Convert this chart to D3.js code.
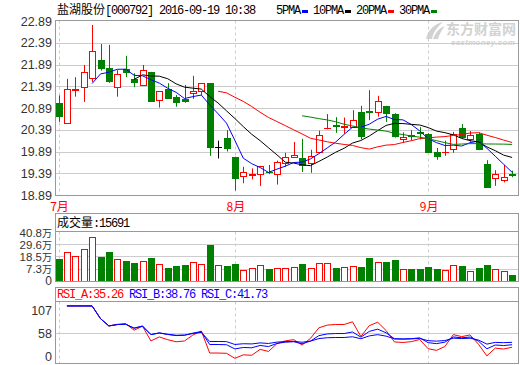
<!DOCTYPE html>
<html><head><meta charset="utf-8">
<script src="https://cdn.jsdelivr.net/npm/d3@7"></script>
<style>body{margin:0;background:#fff}svg{display:block}</style></head>
<body>
<svg id="c" width="520" height="365"></svg>
<script>
// ---- data ----
const openP  = [21.00,20.54,21.31,21.37,21.57,21.99,21.80,21.38,21.78,21.56,21.43,21.71,21.07,21.32,21.14,21.10,21.23,21.29,21.46,20.00,
                20.20,19.77,19.32,19.36,19.37,19.43,19.37,19.62,19.76,19.74,19.62,19.89,20.42,20.49,20.45,20.46,20.80,20.81,20.79,20.94,
                20.75,20.18,20.27,20.34,20.29,19.89,19.87,19.94,20.42,20.18,20.29,19.60,19.27,19.24,19.38];
const highP  = [21.18,21.56,21.60,21.88,22.80,22.36,22.34,21.76,22.09,21.69,21.88,21.72,21.28,21.46,21.19,21.42,21.63,21.46,21.46,20.14,
                20.38,19.77,19.54,19.50,19.56,19.58,19.68,19.86,20.11,20.18,19.93,20.37,20.75,20.68,20.67,20.84,20.94,21.30,21.17,20.94,
                20.77,20.33,20.38,20.45,20.31,19.97,20.14,20.34,20.52,20.36,20.33,19.69,19.46,19.58,19.45];
const lowP   = [20.57,20.54,21.15,21.03,21.49,21.75,21.47,21.15,21.60,21.37,21.40,21.05,20.90,21.10,20.92,21.01,21.10,21.19,19.79,19.73,
                19.89,18.99,19.16,19.25,19.10,19.37,19.13,19.54,19.75,19.42,19.40,19.89,20.40,20.32,20.30,20.45,20.17,20.61,20.69,20.57,
                20.21,20.09,20.14,20.17,19.88,19.70,19.79,19.86,20.19,20.11,19.92,19.06,19.10,19.18,19.30];
const closeP = [20.71,21.32,21.33,21.71,22.19,21.82,21.51,21.67,21.72,21.49,21.76,21.06,21.28,21.13,21.02,21.05,21.28,21.46,20.00,20.00,
                19.97,19.29,19.42,19.37,19.56,19.41,19.66,19.76,19.80,19.59,19.79,20.26,20.43,20.47,20.47,20.61,20.25,20.79,21.05,20.78,
                20.25,20.22,20.25,20.32,19.89,19.79,19.89,20.29,20.22,20.28,19.95,19.08,19.37,19.30,19.36];
const volume = [15.9,23.0,19.3,24.9,35.9,17.8,22.4,16.5,14.1,12.2,14.7,16.8,11.3,7.6,9.5,10.4,13.8,11.3,28.8,10.4,
                9.5,11.6,6.4,7.6,10.4,6.7,8.3,8.3,9.2,11.3,8.3,12.9,12.9,7.6,9.2,10.1,8.5,16.8,13.8,13.2,
                15.0,7.3,6.7,6.7,8.5,6.7,6.4,10.4,9.5,4.9,7.6,10.4,6.7,5.5,1.57]; // 万股
const monthIdx    = [0,21,44];
const monthLabels = ["7月","8月","9月"];
const priceTicks  = [22.89,22.39,21.89,21.39,20.89,20.39,19.89,19.39,18.89];
const volTicks    = [40.8,29.6,18.5,7.3];
const rsiTicks    = [107,58];
const maPeriods   = [5,10,20,30];
const maNames     = ["5PMA","10PMA","20PMA","30PMA"];
const maColors    = ["#0000ff","#000000","#ff0000","#008000"];
const rsiPeriods  = [6,12,24];
const rsiColors   = ["#ff0000","#0000ff","#0000ff"];
const titleCN = "盐湖股份", titleRest = "[000792] 2016-09-19 10:38";
const volHeader = "15691";
const rsiHeader = [["RSI_A:35.26","#ff0000"],["RSI_B:38.76","#0000ff"],["RSI_C:41.73","#0000ff"]];

// ---- layout ----
const svg = d3.select("#c");
const L = 55.5, R = 518.5;
const MT = 20.5, MB = 195.5;
const VT = 213.5, VH = 231.5, VB = 281.5;
const ST = 287.5, SH = 301.5, SB = 363.5;
const N = closeP.length;
const x = d3.scaleLinear().domain([0, N-1]).range([58.5, 58.5 + 8.4*(N-1)]);
const y = d3.scaleLinear().domain([18.89, 22.89]).range([195, 21]);
const yv = d3.scaleLinear().domain([-3.9, 40.8]).range([281, 232]);
const yr = d3.scaleLinear().domain([9.4, 107]).range([363.5, 301.5]);
const cx = i => Math.round(x(i)) + 0.5;
const RED = "#ff0000", GREEN = "#008000", GRID = "#cccccc", BORDER = "#999999";
const MONO = "'Liberation Mono','DejaVu Sans Mono',monospace";
const CJK = "'Noto Sans CJK SC','Noto Sans',sans-serif";
const SANS = "'Liberation Sans',Arial,sans-serif";

const defs = svg.append("defs");
defs.append("clipPath").attr("id","cm").append("rect").attr("x",L).attr("y",MT).attr("width",R-L).attr("height",MB-MT);
defs.append("clipPath").attr("id","cv").append("rect").attr("x",L).attr("y",VH).attr("width",R-L).attr("height",VB-VH);
defs.append("clipPath").attr("id","cr").append("rect").attr("x",L).attr("y",SH).attr("width",R-L).attr("height",SB-SH);

// ---- watermark ----
const wm = svg.append("g").attr("fill","#d2d2d2");
wm.append("path").attr("d","M426,39 C428,30 434,24 443,22 C437,27 433,33 432,39 Z M433,39 C435,33 439,28 445,26 C441,31 439,35 438,39 Z");
wm.append("text").attr("x",446).attr("y",34).attr("font-family",CJK).attr("font-weight","bold").attr("font-size",14).text("东方财富网");
wm.append("text").attr("x",451).attr("y",45).attr("font-family",SANS).attr("font-weight","bold").attr("font-style","italic").attr("font-size",8).attr("letter-spacing",0.3).text("eastmoney.com");

// ---- header ----
const hd = svg.append("text").attr("x",57).attr("y",14).attr("font-size",12).attr("fill","#000");
hd.append("tspan").attr("font-family",CJK).text(titleCN);
hd.append("tspan").attr("font-family",MONO).attr("letter-spacing",-1.2).text(titleRest);
let lx = 276;
maNames.forEach((nm,k)=>{
  svg.append("text").attr("x",lx).attr("y",14).attr("font-family",MONO).attr("font-size",12)
    .attr("letter-spacing",-1.2).attr("fill","#000").text(nm);
  const w = nm.length*6;
  svg.append("rect").attr("x",lx+w+2).attr("y",10).attr("width",6).attr("height",3).attr("fill",maColors[k]);
  lx += w + 13;
});

// ---- main panel grid ----
const gm = svg.append("g");
gm.selectAll("line.h").data(priceTicks.slice(1,-1)).join("line")
  .attr("x1",L).attr("x2",R).attr("y1",d=>Math.round(y(d))+0.5).attr("y2",d=>Math.round(y(d))+0.5)
  .attr("stroke",GRID);
function vdash(g, t, b){
  g.selectAll("line.v").data(monthIdx).join("line")
   .attr("x1",d=>cx(d)).attr("x2",d=>cx(d)).attr("y1",t).attr("y2",b)
   .attr("stroke",GRID).attr("stroke-dasharray","3,3");
}
vdash(gm, MT, MB);
svg.append("g").selectAll("text").data(priceTicks).join("text")
  .attr("x",52).attr("y",d=>y(d)+4.5).attr("text-anchor","end").attr("font-family",SANS)
  .attr("font-size",12.5).attr("fill","#333").text(d=>d.toFixed(2));

// candles
const cg = svg.append("g").attr("clip-path","url(#cm)");
for(let i=0;i<N;i++){
  const o=openP[i], c=closeP[i], h=highP[i], l=lowP[i];
  const col = c>o ? RED : (c<o ? GREEN : "#000");
  const X = cx(i);
  cg.append("line").attr("x1",X).attr("x2",X).attr("y1",y(h)).attr("y2",y(l)).attr("stroke",col);
  const top = Math.round(y(Math.max(o,c))), bot = Math.round(y(Math.min(o,c)));
  if (bot - top < 1) {
    cg.append("line").attr("x1",X-3.5).attr("x2",X+3.5).attr("y1",top+0.5).attr("y2",top+0.5).attr("stroke",col);
  } else if (c>o) {
    cg.append("rect").attr("x",X-3).attr("y",top+0.5).attr("width",6).attr("height",bot-top)
      .attr("fill","#fff").attr("stroke",col);
  } else {
    cg.append("rect").attr("x",X-3.5).attr("y",top).attr("width",7).attr("height",bot-top+1).attr("fill",col);
  }
}
// moving averages of the closes
maPeriods.forEach((n,k)=>{
  const ma = closeP.map((c,i)=> i<n-1 ? null : d3.mean(closeP.slice(i-n+1,i+1)));
  cg.append("path").datum(ma).attr("fill","none").attr("stroke",maColors[k]).attr("stroke-width",1)
    .attr("d", d3.line().defined(d=>d!=null).x((d,i)=>x(i)).y(d=>y(d)));
});
svg.append("rect").attr("x",L).attr("y",MT).attr("width",R-L).attr("height",MB-MT).attr("fill","none").attr("stroke",BORDER);

// month labels
svg.selectAll("text.m").data(monthIdx).join("text")
  .attr("x",d=>x(d)+1).attr("y",211).attr("text-anchor","middle").attr("font-family",CJK)
  .attr("font-size",12).attr("fill",RED).text((d,i)=>monthLabels[i]);

// ---- volume panel ----
const gv = svg.append("g");
gv.selectAll("line.h").data(volTicks.slice(1)).join("line")
  .attr("x1",L).attr("x2",R).attr("y1",d=>Math.round(yv(d))+0.5).attr("y2",d=>Math.round(yv(d))+0.5).attr("stroke",GRID);
vdash(gv, VH, VB);
const vb = svg.append("g").attr("clip-path","url(#cv)");
volume.forEach((v,i)=>{
  const X = cx(i), up = closeP[i] >= openP[i];
  const t = Math.round(yv(v));
  if (up) vb.append("rect").attr("x",X-3).attr("y",t+0.5).attr("width",6).attr("height",VB-t-0.5).attr("fill","#fff").attr("stroke",RED);
  else vb.append("rect").attr("x",X-3.5).attr("y",t).attr("width",7).attr("height",VB-t).attr("fill",GREEN);
});
svg.append("rect").attr("x",L).attr("y",VT).attr("width",R-L).attr("height",VB-VT).attr("fill","none").attr("stroke",BORDER);
svg.append("line").attr("x1",L).attr("x2",R).attr("y1",VH).attr("y2",VH).attr("stroke",BORDER);
const vh = svg.append("text").attr("x",57).attr("y",227).attr("font-size",12).attr("fill","#000");
vh.append("tspan").attr("font-family",CJK).text("成交量");
vh.append("tspan").attr("font-family",MONO).attr("letter-spacing",-1.2).text(":"+volHeader);
svg.append("g").selectAll("text").data(volTicks).join("text")
  .attr("x",52).attr("y",d=>yv(d)+4.5).attr("text-anchor","end").attr("font-family",SANS)
  .attr("font-size",11.5).attr("fill","#333")
  .each(function(d){
    const s = d3.select(this);
    s.append("tspan").text(d.toFixed(1));
    s.append("tspan").attr("font-family",CJK).attr("font-size",10).text("万");
  });
svg.append("text").attr("x",52).attr("y",VB+3).attr("text-anchor","end").attr("font-family",SANS)
  .attr("font-size",12).attr("fill","#333").text("0");

// ---- RSI panel ----
const gr = svg.append("g");
gr.append("line").attr("x1",L).attr("x2",R).attr("y1",Math.round(yr(58))+0.5).attr("y2",Math.round(yr(58))+0.5).attr("stroke",GRID);
vdash(gr, SH, SB);
const rg = svg.append("g").attr("clip-path","url(#cr)");
rsiPeriods.forEach((n,k)=>{
  let su=0, sa=0, up=0, ab=0; const out=[null];
  for(let i=1;i<N;i++){
    const d = closeP[i]-closeP[i-1], u=Math.max(d,0), a=Math.abs(d);
    if(i<=n){ su+=u; sa+=a; up=su/i; ab=sa/i; }
    else { up=(u+(n-1)*up)/n; ab=(a+(n-1)*ab)/n; }
    out.push(ab>0 ? up/ab*100 : null);
  }
  rg.append("path").datum(out).attr("fill","none").attr("stroke",rsiColors[k]).attr("stroke-width",1)
    .attr("d", d3.line().defined(d=>d!=null).x((d,i)=>x(i)).y(d=>yr(d)));
});
svg.append("rect").attr("x",L).attr("y",ST).attr("width",R-L).attr("height",SB-ST).attr("fill","none").attr("stroke",BORDER);
svg.append("line").attr("x1",L).attr("x2",R).attr("y1",SH).attr("y2",SH).attr("stroke",BORDER);
const rh = svg.append("text").attr("x",57).attr("y",298).attr("font-family",MONO).attr("font-size",12).attr("letter-spacing",-1.2);
rsiHeader.forEach((h,k)=>{ rh.append("tspan").attr("fill",h[1]).text((k?" ":"")+h[0]); });
svg.append("text").attr("x",52).attr("y",yr(107)+13).attr("text-anchor","end").attr("font-family",SANS)
  .attr("font-size",12.5).attr("fill","#333").text(rsiTicks[0]);
svg.append("text").attr("x",52).attr("y",yr(58)+5).attr("text-anchor","end").attr("font-family",SANS)
  .attr("font-size",12.5).attr("fill","#333").text(rsiTicks[1]);
svg.append("text").attr("x",52).attr("y",SB-3).attr("text-anchor","end").attr("font-family",SANS)
  .attr("font-size",12.5).attr("fill","#333").text("0");
</script>
</body></html>
